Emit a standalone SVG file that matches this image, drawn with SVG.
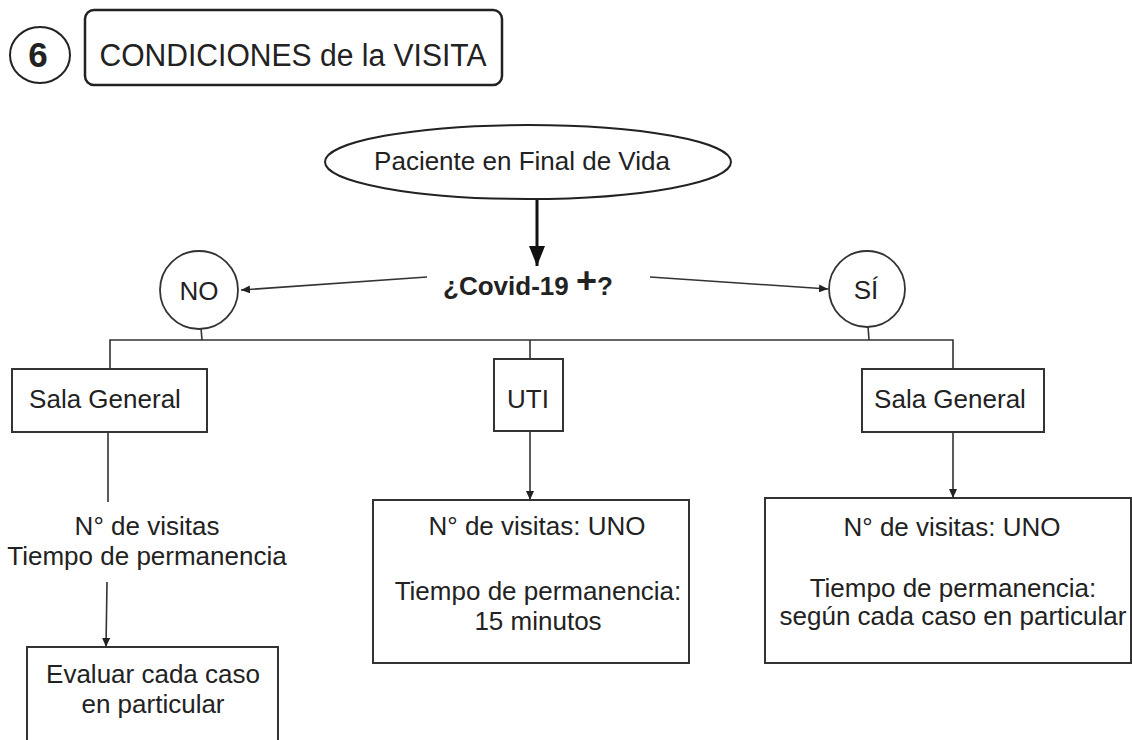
<svg xmlns="http://www.w3.org/2000/svg" width="1132" height="740" viewBox="0 0 1132 740">
<defs>
<style>
.t{font-family:"Liberation Sans",Arial,sans-serif;fill:#222;text-anchor:middle}
.box{fill:#fff;stroke:#333;stroke-width:2}
.ln{fill:none;stroke:#333;stroke-width:1.6}
</style>
<marker id="ah" markerUnits="userSpaceOnUse" markerWidth="10" markerHeight="8" refX="9" refY="4" orient="auto">
<path d="M0,0 L9,4 L0,8 Z" fill="#222"/>
</marker>
<marker id="big" markerUnits="userSpaceOnUse" markerWidth="22" markerHeight="16" refX="20" refY="8" orient="auto">
<path d="M0,0 L20,8 L0,16 Z" fill="#111"/>
</marker>
</defs>
<rect width="1132" height="740" fill="#fff"/>

<g id="num">
<ellipse cx="40" cy="55" rx="30" ry="28" fill="#fff" stroke="#222" stroke-width="2"/>
<text class="t" x="38" y="67" font-size="35" font-weight="bold">6</text>
</g>
<g id="title">
<rect x="85" y="10" width="417" height="75" rx="9" fill="#fff" stroke="#222" stroke-width="2.5"/>
<text class="t" x="293" y="66" font-size="31" textLength="387" lengthAdjust="spacingAndGlyphs">CONDICIONES de la VISITA</text>
</g>

<g id="connectors">
<line x1="537" y1="199" x2="537" y2="266" stroke="#111" stroke-width="3" marker-end="url(#big)"/>
<line class="ln" x1="427" y1="277" x2="241" y2="290" marker-end="url(#ah)"/>
<line class="ln" x1="650" y1="277" x2="828" y2="289" marker-end="url(#ah)"/>
<line class="ln" x1="201" y1="328" x2="202" y2="340"/>
<line class="ln" x1="868" y1="326" x2="869" y2="340"/>
<polyline class="ln" points="110,369 110,340 953,340 953,369"/>
<line class="ln" x1="530" y1="340" x2="530" y2="359"/>
<line class="ln" x1="108" y1="432" x2="108" y2="502"/>
<line class="ln" x1="107" y1="582" x2="106" y2="647" marker-end="url(#ah)"/>
<line class="ln" x1="530" y1="431" x2="530" y2="500" marker-end="url(#ah)"/>
<line class="ln" x1="953" y1="432" x2="953" y2="498" marker-end="url(#ah)"/>
</g>

<g id="paciente">
<ellipse cx="528" cy="162" rx="203" ry="37" fill="#fff" stroke="#222" stroke-width="2"/>
<text class="t" x="522" y="170" font-size="26">Paciente en Final de Vida</text>
</g>
<g id="covid">
<text class="t" x="528" y="295" font-size="26" font-weight="bold">¿Covid-19 <tspan font-size="36" dy="-2">+</tspan><tspan dy="2">?</tspan></text>
</g>
<g id="no">
<circle cx="199" cy="290" r="39" fill="#fff" stroke="#333" stroke-width="1.8"/>
<text class="t" x="199" y="300" font-size="26">NO</text>
</g>
<g id="si">
<circle cx="867" cy="289" r="38" fill="#fff" stroke="#333" stroke-width="1.8"/>
<text class="t" x="866" y="299" font-size="26">SÍ</text>
</g>
<g id="sala-no">
<rect class="box" x="12" y="369" width="195" height="63"/>
<text class="t" x="105" y="408" font-size="26">Sala General</text>
</g>
<g id="uti">
<rect class="box" x="494" y="359" width="69" height="72"/>
<text class="t" x="528" y="408" font-size="26">UTI</text>
</g>
<g id="sala-si">
<rect class="box" x="862" y="369" width="182" height="63"/>
<text class="t" x="950" y="408" font-size="26">Sala General</text>
</g>
<g id="visitas-no">
<text class="t" x="147" y="535" font-size="26">N° de visitas</text>
<text class="t" x="147" y="565" font-size="26">Tiempo de permanencia</text>
</g>
<g id="evaluar">
<rect class="box" x="27" y="647" width="251" height="110"/>
<text class="t" x="153" y="683" font-size="26">Evaluar cada caso</text>
<text class="t" x="153" y="713" font-size="26">en particular</text>
</g>
<g id="uti-detalle">
<rect class="box" x="373" y="500" width="316" height="163"/>
<text class="t" x="537" y="535" font-size="26">N° de visitas: UNO</text>
<text class="t" x="538" y="600" font-size="26">Tiempo de permanencia:</text>
<text class="t" x="538" y="630" font-size="26">15 minutos</text>
</g>
<g id="si-detalle">
<rect class="box" x="765" y="498" width="366" height="165"/>
<text class="t" x="952" y="536" font-size="26">N° de visitas: UNO</text>
<text class="t" x="953" y="597" font-size="26">Tiempo de permanencia:</text>
<text class="t" x="953" y="625" font-size="26">según cada caso en particular</text>
</g>
</svg>
